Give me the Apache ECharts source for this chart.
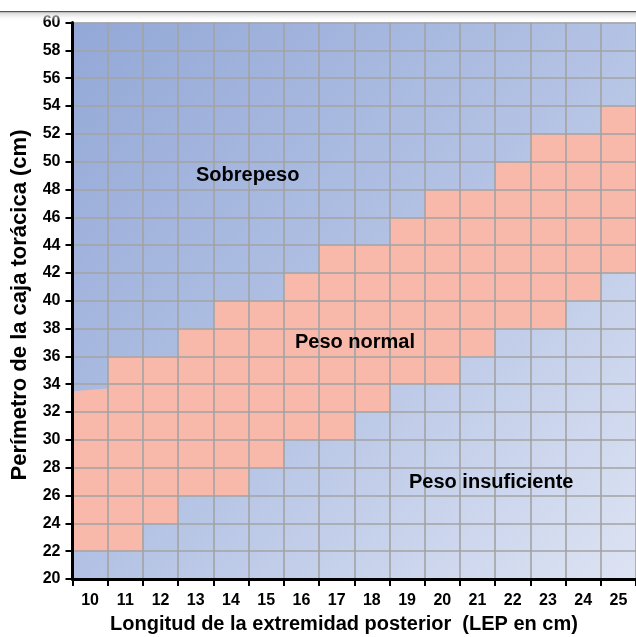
<!DOCTYPE html>
<html><head><meta charset="utf-8">
<script src="https://cdn.jsdelivr.net/npm/echarts@6/dist/echarts.min.js"></script>
<style>html,body{margin:0;padding:0;background:#fff}#c{width:636px;height:637px}</style>
</head><body><div id="c"></div>
<script>
// Longitud de la extremidad posterior (LEP, cm)
const categories = ['10','11','12','13','14','15','16','17','18','19','20','21','22','23','24','25'];
// Lower edge of the "Peso normal" band per column (cm)
const normalLow = [22,22,24,26,26,28,30,30,32,34,34,36,38,38,40,42];
// Upper edge of the band at the left and right side of each column (cm)
const normalHighLeft  = [33.5,36,36,38,40,40,42,44,44,46,48,48,50,52,52,54];
const normalHighRight = [33.7,36,36,38,40,40,42,44,44,46,48,48,50,52,52,54];
const yTicks = {min:20, max:60, step:2};

const chart = echarts.init(document.getElementById('c'));
const FONT = '"Liberation Sans", Arial, Helvetica, sans-serif';
const data = categories.map((c,i)=>[i, normalLow[i], normalHighLeft[i], normalHighRight[i]]);

chart.setOption({
  animation:false,
  grid:{left:72.5, top:22.5, width:566, height:556.5, show:true, borderWidth:0,
    backgroundColor:new echarts.graphic.LinearGradient(0,0,1,1,[
      {offset:0,color:'#93a8d7'},{offset:0.5,color:'#b3c2e4'},{offset:1,color:'#dde3f3'}])},
  xAxis:{type:'category', data:categories, boundaryGap:true, z:5,
    axisLine:{lineStyle:{color:'#000', width:3}},
    axisTick:{show:true, length:7, lineStyle:{color:'#000', width:2}},
    axisLabel:{color:'#000', fontFamily:FONT, fontWeight:'bold', fontSize:16, margin:14},
    splitLine:{show:true, interval:0, lineStyle:{color:'#a3a3a3', width:1.6}}},
  yAxis:{type:'value', min:yTicks.min, max:yTicks.max, interval:yTicks.step, z:5,
    axisLine:{show:true, lineStyle:{color:'#000', width:3}},
    axisTick:{show:true, length:7, lineStyle:{color:'#000', width:2}},
    axisLabel:{color:'#000', fontFamily:FONT, fontWeight:'bold', fontSize:16, margin:12},
    splitLine:{show:true, lineStyle:{color:'#a3a3a3', width:1.6}}},
  series:[{
    type:'custom', z:2, data:data,
    renderItem:function(params, api){
      const i = api.value(0);
      const w = api.size([1,0])[0];
      const bl = api.coord([i, api.value(1)]);
      const tl = api.coord([i, api.value(2)]);
      const tr = api.coord([i, api.value(3)]);
      const x0 = bl[0]-w/2, x1 = bl[0]+w/2;
      return {type:'polygon', shape:{points:[[x0,bl[1]],[x1,bl[1]],[x1,tr[1]],[x0,tl[1]]]},
        style:{fill:'#f8b9aa', stroke:null}};
    }
  }],
  graphic:[
    {type:'rect', shape:{x:0,y:11,width:636,height:1.5}, style:{fill:'#555'}, z:10},
    {type:'rect', shape:{x:0,y:12.5,width:636,height:9}, z:10,
      style:{fill:new echarts.graphic.LinearGradient(0,0,0,1,[{offset:0,color:'#d6d6d6'},{offset:1,color:'rgba(255,255,255,0)'}])}},
    {type:'text', x:196, y:175, z:10, style:{text:'Sobrepeso', font:'bold 20px '+FONT, fill:'#000', verticalAlign:'middle'}},
    {type:'text', x:295, y:342, z:10, style:{text:'Peso normal', font:'bold 20px '+FONT, fill:'#000', verticalAlign:'middle'}},
    {type:'text', x:409, y:482, z:10, style:{text:'Peso insuficiente', font:'bold 20px '+FONT, fill:'#000', verticalAlign:'middle'}},
    {type:'text', x:344, y:624, z:10, style:{text:'Longitud de la extremidad posterior  (LEP en cm)', font:'bold 20px '+FONT, fill:'#000', align:'center', verticalAlign:'middle'}},
    {type:'text', x:20, y:305, rotation:Math.PI/2, z:10, style:{text:'Perímetro de la caja torácica (cm)', font:'bold 22px '+FONT, fill:'#000', align:'center', verticalAlign:'middle'}}
  ]
});
</script></body></html>
